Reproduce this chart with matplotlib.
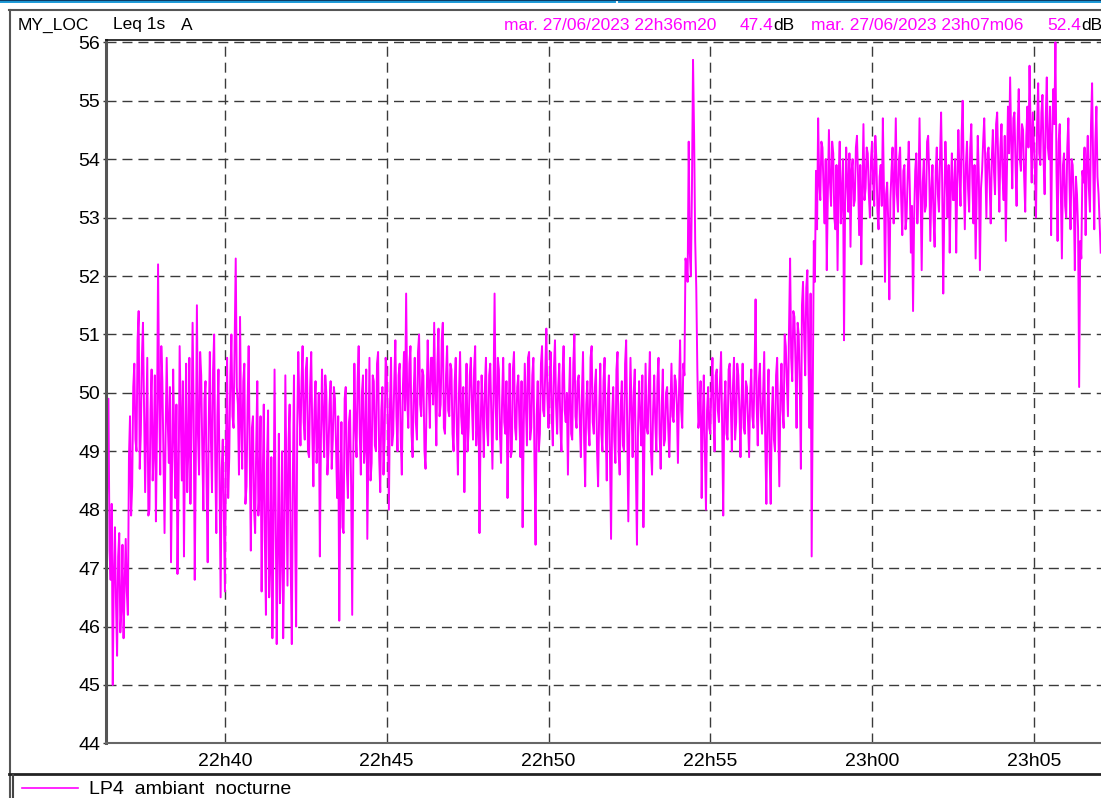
import pandas as pd
import matplotlib
matplotlib.use('Agg')
import matplotlib.pyplot as plt
import matplotlib.dates as mdates

plt.rcParams['font.family'] = ['Liberation Sans', 'DejaVu Sans']

# Leq 1s (A), one value every 2 s, from 22h36m20 to 23h07m06
start = '2023-06-27 22:36:20'
end = '2023-06-27 23:07:06'
step = '2s'

leq = [
    47.4, 48.6, 49.9, 47.3, 46.8, 48.1, 45.0, 46.9, 47.7, 46.4, 45.5, 47.2, 47.6, 45.9, 46.3,
    47.4, 45.8, 46.7, 47.5, 46.6, 46.2, 48.9, 49.6, 47.9, 48.4, 50.1, 50.5, 49.2, 49.0, 50.9,
    51.4, 48.7, 49.3, 50.6, 51.2, 49.8, 48.3, 49.5, 50.6, 47.9, 48.0, 49.7, 50.4, 48.5, 49.0,
    50.3, 47.8, 49.4, 52.2, 49.9, 48.6, 50.8, 50.2, 48.9, 47.6, 49.3, 50.6, 49.5, 48.8, 50.1,
    47.1, 48.7, 50.4, 49.2, 48.2, 49.8, 46.9, 48.4, 50.8, 49.6, 48.5, 50.2, 47.2, 49.1, 50.5,
    48.3, 49.0, 50.6, 48.1, 49.4, 51.2, 49.7, 46.8, 48.9, 51.5, 49.3, 48.6, 50.7, 50.3, 49.0,
    48.0, 49.9, 50.2, 48.4, 47.1, 49.5, 50.7, 49.2, 48.3, 50.4, 51.0, 48.8, 47.6, 49.6, 50.4,
    48.5, 46.5, 48.7, 49.2, 47.9,
    # 22h40
    46.6, 49.1, 50.6, 48.2, 48.9, 50.3, 51.0, 49.6, 49.4, 50.8, 52.3, 50.1, 49.8, 48.6, 51.3,
    49.5, 48.7, 50.2, 50.5, 48.1, 48.4, 49.8, 50.8, 48.9, 47.3, 49.4, 49.6, 48.0, 47.6, 49.1,
    50.2, 47.9, 48.3, 49.6, 46.6, 48.4, 49.8, 47.5, 46.2, 48.8, 49.7, 46.5, 47.0, 48.9, 45.8,
    47.6, 50.4, 48.1, 45.7, 47.4, 49.3, 46.4, 47.2, 49.0, 45.8, 47.3, 50.3, 48.5, 46.7, 49.2,
    49.8, 47.0, 45.7, 48.6, 50.3, 47.7, 46.0, 49.4, 50.7, 49.8, 49.1, 50.2, 50.8, 49.5, 49.2,
    50.4, 50.6, 49.0, 48.9, 50.1, 50.7, 49.3, 48.4, 49.7, 50.2, 48.8, 49.3, 50.0, 47.2, 49.2,
    50.4, 49.6, 48.9, 50.3, 50.0, 48.6, 49.0, 49.8, 50.2, 48.7, 49.2, 50.1, 49.9, 49.1, 48.2,
    49.6, 46.1, 48.3, 49.5, 47.7, 47.6, 49.9, 50.1, 48.7, 48.2, 49.5, 49.7, 48.4, 46.2, 48.9,
    50.5, 49.4, 48.9, 50.2, 50.8, 49.3, 48.6, 50.0, 50.3, 48.8, 49.1, 50.4, 47.5, 49.0, 50.6,
    48.5, 48.8, 50.3, 50.2, 49.1, 49.0, 50.5, 50.7, 48.9, 48.3, 49.7, 50.1, 48.6, 49.2, 50.6,
    # 22h45
    50.4, 49.5, 48.0, 49.8, 50.6, 49.1, 49.3, 50.2, 50.9, 49.6, 49.0, 50.3, 50.5, 49.2, 48.6,
    50.1, 50.7, 49.7, 51.7, 49.9, 49.4, 50.5, 50.8, 49.3, 48.9, 50.0, 50.6, 49.5, 49.2, 50.7,
    51.0, 49.8, 49.6, 50.4, 50.3, 49.0, 48.7, 49.9, 50.9, 50.1, 49.4, 50.6, 50.6, 49.8, 51.2,
    50.0, 49.1, 50.5, 51.1, 49.6, 49.8, 50.9, 51.2, 49.4, 49.3, 50.3, 50.8, 49.7, 49.6, 50.5,
    50.4, 49.3, 49.0, 50.2, 50.6, 49.4, 48.6, 50.0, 50.7, 49.6, 49.3, 50.1, 48.3, 49.5, 50.5,
    49.0, 49.4, 50.3, 50.6, 49.8, 49.2, 50.4, 50.8, 49.1, 49.5, 50.2, 47.6, 49.3, 50.3, 49.7,
    48.9, 50.1, 50.6, 49.4, 49.1, 50.3, 50.5, 49.6, 48.7, 50.0, 51.7, 49.8, 49.2, 50.6, 50.4,
    49.3, 48.8, 49.9, 50.6, 49.5, 49.3, 50.2, 48.2, 49.6, 50.5, 48.9, 49.0, 50.4, 50.7, 49.4,
    49.2, 50.1, 50.3, 49.5, 48.9, 50.2, 47.7, 49.4, 50.5, 49.8, 49.1, 50.6, 50.7, 49.2, 49.4,
    50.3, 50.6, 48.8, 47.4, 49.6, 50.2, 49.0, 49.3, 50.5, 50.8, 49.7, 49.6, 50.4, 51.1, 49.9,
    # 22h50
    49.4, 50.2, 50.7, 49.6, 49.1, 50.4, 50.9, 49.8, 49.3, 50.1, 50.5, 49.4, 49.0, 50.3, 50.8,
    49.7, 49.5, 50.0, 48.6, 49.9, 50.6, 49.3, 49.2, 50.5, 51.0, 49.6, 49.4, 50.2, 50.3, 49.5,
    48.9, 50.0, 50.7, 49.2, 48.4, 49.8, 50.2, 49.4, 49.1, 50.6, 50.8, 49.5, 49.3, 50.1, 50.4,
    49.0, 48.4, 49.7, 50.5, 49.3, 49.0, 50.2, 50.6, 49.4, 48.5, 49.9, 50.3, 48.9, 47.5, 49.6,
    50.1, 49.2, 48.8, 50.4, 50.7, 49.0, 48.6, 49.8, 50.2, 49.1, 49.0, 50.5, 50.9, 49.3, 47.8,
    49.5, 50.6, 49.7, 48.9, 50.0, 50.4, 48.7, 47.4, 49.4, 50.2, 49.6, 49.1, 50.3, 47.7, 49.2,
    50.5, 49.4, 49.3, 50.1, 50.7, 49.0, 48.6, 49.7, 50.3, 49.5, 49.0, 50.2, 50.6, 49.3, 48.7,
    49.8, 50.4, 49.1, 49.2, 50.0, 50.1, 49.4, 48.9, 49.7, 50.5, 49.6, 49.5, 50.3, 50.2, 49.8,
    48.8, 50.0, 50.9, 49.7, 49.4, 50.5, 50.3, 52.3, 52.2, 51.9, 54.3, 52.4, 52.0, 53.5, 55.7,
    54.4, 52.6, 51.8, 50.4, 49.4, 49.6, 50.2, 48.2, 49.5, 50.3, 49.0, 48.0, 49.7, 50.1, 49.4,
    # 22h55
    49.3, 50.1, 50.6, 49.6, 49.0, 50.3, 50.4, 49.7, 49.5, 50.2, 50.7, 49.4, 47.9, 49.8, 50.2,
    49.3, 49.2, 50.4, 50.5, 49.8, 49.0, 50.1, 50.6, 49.2, 49.5, 50.5, 50.3, 49.7, 48.9, 49.9,
    50.5, 49.4, 49.3, 50.2, 50.1, 49.5, 48.9, 50.0, 50.4, 49.6, 49.4, 50.3, 51.6, 49.8, 49.1,
    50.2, 50.5, 49.6, 49.3, 50.0, 50.7, 49.1, 48.1, 49.7, 50.4, 48.9, 48.1, 49.6, 50.1, 49.2,
    49.0, 50.3, 50.6, 49.5, 48.4, 49.9, 50.5, 49.7, 49.4, 51.0, 50.8, 50.2, 49.6, 51.1, 52.3,
    50.6, 50.2, 51.4, 51.3, 50.5, 49.4, 51.2, 51.0, 50.1, 48.7, 51.5, 51.9, 51.0, 50.3, 51.8,
    52.1, 50.6, 49.4, 51.7, 47.2, 49.8, 52.6, 51.9, 53.8, 52.8, 54.7, 53.6, 53.3, 54.3, 54.2,
    53.5, 52.9, 54.0, 52.1, 53.4, 54.5, 53.6, 53.2, 54.3, 54.1, 53.0, 52.8, 53.9, 52.1, 53.7,
    54.3, 52.9, 53.4, 54.0, 50.9, 53.2, 54.2, 53.6, 53.1, 54.1, 52.5, 53.8, 54.0, 53.2, 53.3,
    54.2, 54.4, 53.7, 52.7, 53.9, 52.2, 53.5, 54.6, 53.3, 53.5, 54.2, 54.1, 53.4, 53.0, 54.0,
    # 23h00
    54.3, 53.6, 53.2, 54.4, 54.0, 53.1, 52.8, 53.7, 53.9, 53.2, 54.7, 53.5, 51.9, 53.4, 53.6,
    52.9, 51.6, 53.3, 53.8, 54.2, 52.9, 53.6, 54.7, 53.4, 53.1, 54.0, 54.2, 53.3, 52.7, 53.8,
    53.9, 52.8, 53.0, 53.7, 54.3, 53.5, 52.4, 53.2, 51.4, 53.0, 53.8, 54.1, 52.9, 53.5, 54.7,
    53.4, 52.1, 53.6, 54.0, 53.1, 53.2, 54.3, 54.4, 53.7, 52.6, 53.5, 53.9, 53.0, 52.5, 53.8,
    54.2, 53.4, 53.1, 54.0, 54.8, 53.6, 51.7, 53.2, 54.3, 53.7, 53.0, 53.9, 52.4, 53.5, 54.1,
    53.3, 53.3, 54.0, 52.4, 53.6, 54.5, 53.8, 53.2, 54.4, 55.0, 53.7, 52.8, 53.9, 54.3, 53.5,
    53.1, 54.2, 54.6, 53.6, 52.9, 53.9, 52.3, 53.4, 54.4, 53.7, 52.1, 53.5, 53.8, 54.3, 54.7,
    53.9, 53.0, 54.1, 54.2, 53.6, 52.9, 54.0, 54.5, 53.8, 53.4, 54.6, 54.8, 53.9, 53.1, 54.2,
    54.6, 53.7, 53.3, 54.4, 52.6, 53.8, 54.9, 54.1, 55.4, 54.3, 53.5, 54.7, 54.8, 53.9, 53.2,
    54.5, 55.2, 54.0, 53.8, 54.6, 54.5, 53.7, 53.1, 54.4, 54.9, 54.2, 55.6, 54.5, 53.6, 54.8,
    # 23h05
    54.3, 53.8, 53.0, 54.6, 55.3, 54.1, 53.9, 54.8, 55.1, 54.0, 53.4, 54.7, 55.4, 54.2, 54.0,
    54.9, 52.7, 54.4, 55.2, 54.6, 56.0, 53.8, 52.6, 54.3, 54.6, 53.5, 52.3, 53.9, 54.1, 53.2,
    53.0, 54.2, 54.7, 53.6, 52.8, 54.0, 53.9, 53.3, 52.1, 53.7, 53.4, 52.8, 50.1, 52.6, 52.3,
    53.8, 53.6, 54.2, 52.7, 53.9, 54.4, 53.5, 53.1, 54.6, 55.3, 53.9, 52.8, 54.3, 54.9, 53.7,
    53.4, 52.9, 52.4,
]

y_ticks = list(range(44, 57))
series_name = 'LP4  ambiant  nocturne'
first_stamp = 'mar. 27/06/2023 22h36m20'
first_value = '47.4'
last_stamp = 'mar. 27/06/2023 23h07m06'
last_value = '52.4'

times = pd.date_range(start, periods=len(leq), freq=step)

W, H = 1101, 798
fig = plt.figure(figsize=(W / 100, H / 100), dpi=100)

# pixel-space layer for the window frame, header and legend
bg = fig.add_axes([0, 0, 1, 1])
bg.set_xlim(0, W)
bg.set_ylim(H, 0)
bg.axis('off')

bg.fill_between([0, W], 0, 3, color='#1e9bd8', lw=0)
bg.plot([617, 617], [0, 3], color='white', lw=1.5)
bg.plot([0, W], [0.4, 0.4], color='#0b3d66', lw=0.8)
bg.plot([9, W], [9.5, 9.5], color='#555555', lw=1.5)
bg.plot([9.5, 9.5], [9.5, H], color='#555555', lw=1.5)
bg.plot([9, W], [774, 774], color='#222222', lw=2)
bg.plot([12.5, 12.5], [775, H], color='#444444', lw=1.5)

bg.text(18, 25, 'MY_LOC', fontsize=12.5, va='center', ha='left')
bg.text(113, 25, 'Leq 1s', fontsize=12.5, va='center', ha='left')
bg.text(181, 25, 'A', fontsize=12.5, va='center', ha='left')
bg.text(504, 25, first_stamp, fontsize=12.5, va='center', ha='left', color='#ff00ff')
bg.text(773, 25, first_value, fontsize=12.5, va='center', ha='right', color='#ff00ff')
bg.text(773, 25, 'dB', fontsize=12.5, va='center', ha='left')
bg.text(811, 25, last_stamp, fontsize=12.5, va='center', ha='left', color='#ff00ff')
bg.text(1081, 25, last_value, fontsize=12.5, va='center', ha='right', color='#ff00ff')
bg.text(1081, 25, 'dB', fontsize=12.5, va='center', ha='left')

bg.plot([22, 78], [788, 788], color='#ff00ff', lw=1.2)
leg = bg.text(89, 789, series_name, fontsize=14, va='center', ha='left')
clip = matplotlib.patches.Rectangle((12, 775), 285, 30, transform=bg.transData)
leg.set_clip_path(clip)

# main plot
ax = fig.add_axes([106.3 / W, (H - 743.4) / H, (1101.8 - 106.3) / W, (743.4 - 40) / H])
ax.plot(times, leq, color='#ff00ff', lw=1.4)
ax.set_xlim(pd.Timestamp(start), pd.Timestamp(end))
ax.set_ylim(44, 56.04)
ax.set_yticks(y_ticks)
ax.xaxis.set_major_locator(mdates.MinuteLocator(byminute=range(0, 60, 5)))
ax.xaxis.set_major_formatter(mdates.DateFormatter('%Hh%M'))
ax.grid(True, color='#3a3a3a', lw=1, linestyle=(0, (7.2, 4.3)))

ax.tick_params(axis='x', length=0, pad=7, labelsize=14)
ax.tick_params(axis='y', length=2.5, width=1, pad=2, labelsize=14, color='#333333')

ax.spines['right'].set_visible(False)
ax.spines['left'].set_color('#555555')
ax.spines['left'].set_linewidth(2.2)
ax.spines['bottom'].set_color('#666666')
ax.spines['bottom'].set_linewidth(1.5)
ax.spines['top'].set_color('#111111')
ax.spines['top'].set_linewidth(1.2)

fig.savefig('out.png', dpi=100)
